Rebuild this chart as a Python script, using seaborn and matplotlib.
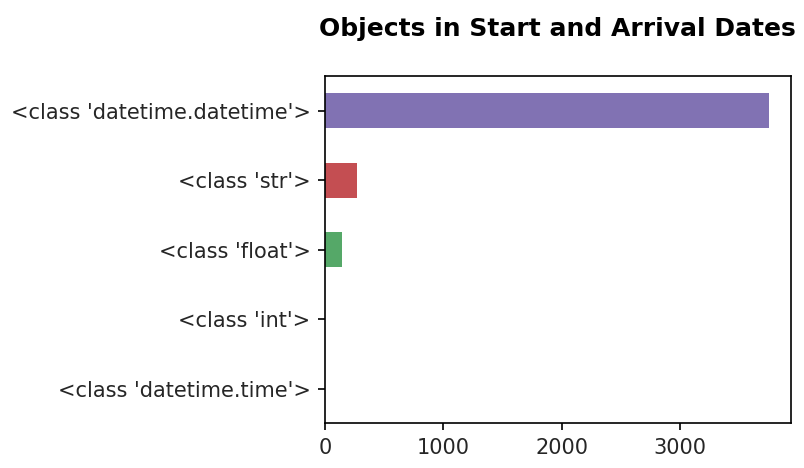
import matplotlib
matplotlib.use('Agg')
import matplotlib.pyplot as plt
import seaborn as sns
import pandas as pd

# value counts of object types found in the date columns
type_labels = ["<class 'datetime.datetime'>", "<class 'str'>", "<class 'float'>",
               "<class 'int'>", "<class 'datetime.time'>"]
type_counts = [3750, 272, 144, 2, 1]

deep = sns.color_palette('deep')
bar_colors = [deep[4], deep[3], deep[2], deep[1], deep[0]]

df = pd.DataFrame({'type': type_labels, 'count': type_counts})

fig, ax = plt.subplots(figsize=(804 / 150, 468 / 150), dpi=150)
sns.barplot(data=df, x='count', y='type', hue='type', order=type_labels,
            palette=bar_colors, saturation=1, width=0.5, legend=False, ax=ax)
ax.set_xlabel('')
ax.set_ylabel('')
ax.set_xticks([0, 1000, 2000, 3000])
ax.tick_params(labelcolor='#262626')
ax.set_title('Objects in Start and Arrival Dates', fontsize=12,
             fontweight='bold', pad=19)

plt.subplots_adjust(left=0.4042, right=0.9835, top=0.8376, bottom=0.0955)
plt.savefig('out.png', dpi=150)
plt.close()
